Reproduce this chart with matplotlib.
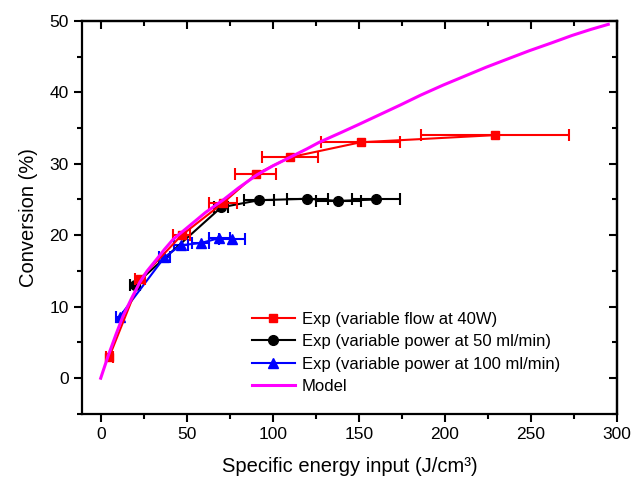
import matplotlib
matplotlib.use("Agg")
import matplotlib.pyplot as plt

plt.rcParams['font.family'] = ['Liberation Sans', 'DejaVu Sans']

# Exp (variable flow at 40W)
red_x = [5, 23, 47, 71, 90, 110, 151, 229]
red_y = [3.0, 13.9, 20.0, 24.5, 28.5, 30.9, 33.0, 34.0]
red_xerr = [2, 3, 5, 8, 12, 16, 23, 43]

# Exp (variable power at 50 ml/min)
blk_x = [20, 70, 92, 120, 138, 160]
blk_y = [13.1, 23.9, 24.9, 25.1, 24.8, 25.0]
blk_xerr = [3, 4, 9, 12, 13, 14]

# Exp (variable power at 100 ml/min)
blu_x = [11, 37, 46.5, 58, 69, 76.5]
blu_y = [8.6, 16.9, 18.6, 18.9, 19.6, 19.5]
blu_xerr = [2, 3, 4, 5, 6, 7.5]

# Model
mod_x = [0, 4.3, 9, 13, 18, 22.7, 27, 32.4, 37, 42, 47, 52, 61, 71, 80, 90.5, 100, 110,
         120, 127, 140, 150, 162, 174, 186, 199, 212, 224, 237, 249, 262, 274, 285, 295]
mod_y = [0, 3.1, 6.2, 8.7, 11.2, 13.4, 15.0, 16.6, 18.0, 19.4, 20.4, 21.4, 23.2, 24.9,
         26.6, 28.4, 29.7, 30.9, 32.1, 33.0, 34.4, 35.5, 36.85, 38.2, 39.6, 41.0, 42.3,
         43.5, 44.7, 45.8, 46.9, 47.95, 48.8, 49.5]

labels = ['Exp (variable flow at 40W)', 'Exp (variable power at 50 ml/min)',
          'Exp (variable power at 100 ml/min)', 'Model']

fig = plt.figure(figsize=(6.34, 4.83), dpi=100)
ax = fig.add_axes([0.129, 0.143, 0.844, 0.814])

ekw = dict(fmt='none', capsize=4, capthick=1.5, elinewidth=1.5)
ax.errorbar(red_x, red_y, xerr=red_xerr, ecolor='#ff0000', zorder=3, **ekw)
ax.errorbar(blk_x, blk_y, xerr=blk_xerr, ecolor='black', zorder=2, **ekw)
ax.errorbar(blu_x, blu_y, xerr=blu_xerr, ecolor='#0000ff', zorder=2, **ekw)
h1, = ax.plot(red_x, red_y, color='#ff0000', marker='s', ms=6, lw=1.5,
              label=labels[0], zorder=3)
h2, = ax.plot(blk_x, blk_y, color='black', marker='o', ms=7, lw=1.5,
              label=labels[1], zorder=2)
h3, = ax.plot(blu_x, blu_y, color='#0000ff', marker='^', ms=7, lw=1.5,
              label=labels[2], zorder=2)
h4, = ax.plot(mod_x, mod_y, color='#ff00ff', lw=2.2, label=labels[3], zorder=4)

ax.set_xlim(-11, 300)
ax.set_ylim(-5, 50)
ax.set_xticks([0, 50, 100, 150, 200, 250, 300])
ax.set_xticks([25, 75, 125, 175, 225, 275], minor=True)
ax.set_yticks([0, 10, 20, 30, 40, 50])
ax.set_yticks([-5, 5, 15, 25, 35, 45], minor=True)
ax.tick_params(axis='both', which='major', direction='out', length=6, width=1.5,
               labelsize=12.5)
ax.tick_params(axis='both', which='minor', direction='out', length=3.5, width=1.5)
for s in ax.spines.values():
    s.set_linewidth(1.6)

top = ax.secondary_xaxis('top')
top.set_xticks([0, 50, 100, 150, 200, 250, 300])
top.set_xticks([25, 75, 125, 175, 225, 275], minor=True)
top.tick_params(which='major', direction='in', length=6, width=1.5, labeltop=False)
top.tick_params(which='minor', direction='in', length=3.5, width=1.5)
top.spines['top'].set_linewidth(1.6)
right = ax.secondary_yaxis('right')
right.set_yticks([0, 10, 20, 30, 40, 50])
right.set_yticks([-5, 5, 15, 25, 35, 45], minor=True)
right.tick_params(which='major', direction='in', length=6, width=1.5, labelright=False)
right.tick_params(which='minor', direction='in', length=3.5, width=1.5)
right.spines['right'].set_linewidth(1.6)

ax.set_xlabel('Specific energy input (J/cm³)', fontsize=14.5, labelpad=11)
ax.set_ylabel('Conversion (%)', fontsize=14.5, labelpad=8)

ax.legend(handles=[h1, h2, h3, h4], loc='upper left', bbox_to_anchor=(0.305, 0.277),
          frameon=False, fontsize=12, handlelength=2.6, handletextpad=0.4,
          labelspacing=0.45, borderaxespad=0)

fig.savefig('out.png', dpi=100)
